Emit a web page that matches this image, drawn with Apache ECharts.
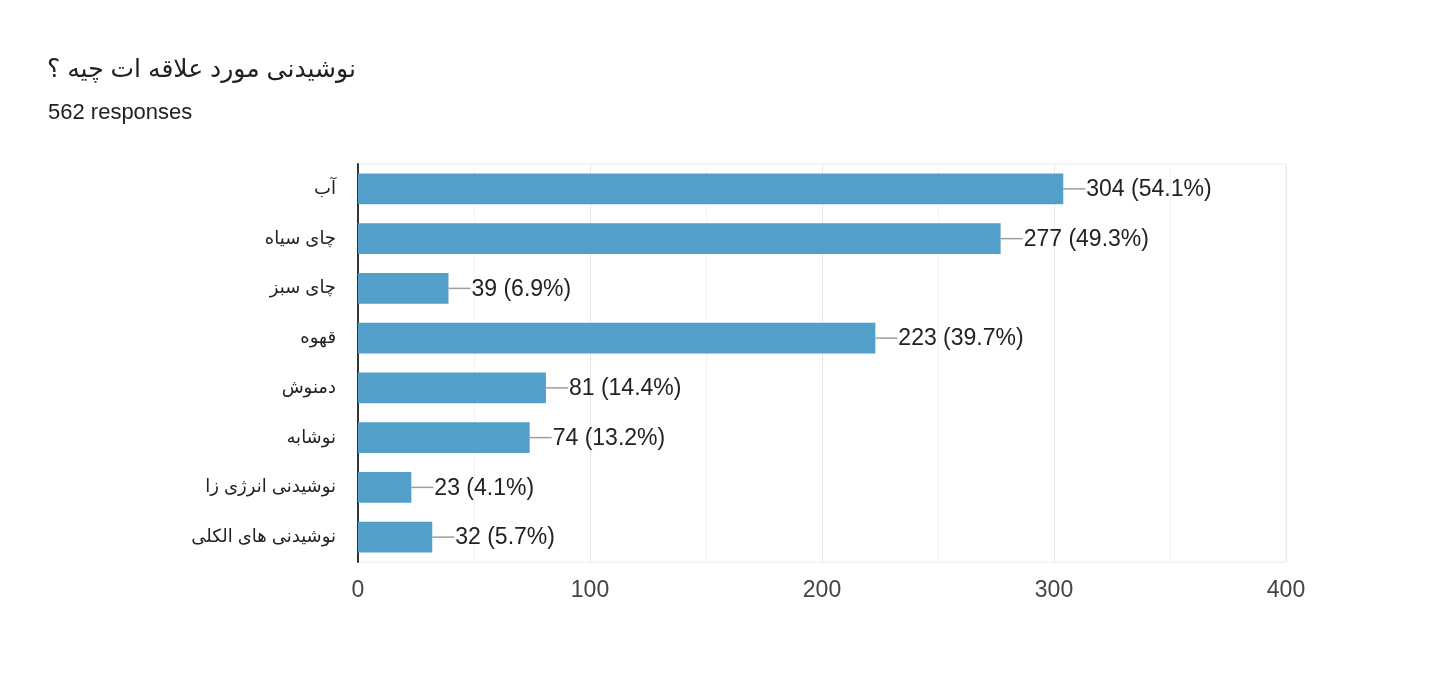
<!DOCTYPE html>
<html>
<head>
<meta charset="utf-8">
<script src="https://cdn.jsdelivr.net/npm/echarts@6/dist/echarts.min.js"></script>
<style>
  html, body { margin: 0; padding: 0; background: #fff; }
  #main { width: 1429px; height: 680px; }
</style>
</head>
<body>
<div id="main"></div>
<script>
const titleText = 'نوشیدنی مورد علاقه ات چیه ؟';
const subtitleText = '562 responses';
const categories = ['آب', 'چای سیاه', 'چای سبز', 'قهوه', 'دمنوش', 'نوشابه', 'نوشیدنی انرژی زا', 'نوشیدنی های الکلی'];
const counts = [304, 277, 39, 223, 81, 74, 23, 32];
const percents = ['54.1%', '49.3%', '6.9%', '39.7%', '14.4%', '13.2%', '4.1%', '5.7%'];
const xTicks = [0, 100, 200, 300, 400];

const textFont = '"Liberation Sans", Arial, "DejaVu Sans", sans-serif';

const dom = document.getElementById('main');
const myChart = echarts.init(dom);

myChart.setOption({
  animation: false,
  title: [
    {
      text: titleText,
      left: 42,
      top: 53,
      textStyle: { fontSize: 25, fontWeight: 'normal', color: '#202124', fontFamily: textFont },
    },
    {
      text: subtitleText,
      left: 43,
      top: 97,
      textStyle: { fontSize: 22, fontWeight: 'normal', color: '#202124', fontFamily: textFont },
    },
  ],
  grid: {
    left: 358,
    right: 143,
    top: 164,
    bottom: 118,
    show: true,
    borderColor: '#ececec',
    borderWidth: 1,
  },
  xAxis: {
    type: 'value',
    min: xTicks[0],
    max: xTicks[xTicks.length - 1],
    interval: 100,
    axisLine: { show: false },
    axisTick: { show: false },
    axisLabel: { fontSize: 23, color: '#444', margin: 17, fontFamily: textFont },
    splitLine: { lineStyle: { color: '#e6e6e6' } },
    minorTick: { show: false, splitNumber: 2 },
    minorSplitLine: { show: true, lineStyle: { color: '#f3f3f3' } },
  },
  yAxis: {
    type: 'category',
    data: categories,
    inverse: true,
    axisLine: { show: true, lineStyle: { color: '#333', width: 2 } },
    axisTick: { show: false },
    axisLabel: { fontSize: 18, color: '#222', margin: 22, padding: [3, 0, 0, 0], fontFamily: textFont },
  },
  series: [
    {
      type: 'bar',
      data: counts,
      barWidth: '62%',
      itemStyle: { color: '#52a0ca' },
      label: {
        show: true,
        position: 'right',
        distance: 0,
        formatter: (p) => `{l|}{v|${p.value} (${percents[p.dataIndex]})}`,
        rich: {
          l: { width: 22, height: 1.5, backgroundColor: '#9e9e9e' },
          v: { fontSize: 23, color: '#222', padding: [2, 0, 0, 1], fontFamily: textFont },
        },
      },
    },
  ],
});
</script>
</body>
</html>
